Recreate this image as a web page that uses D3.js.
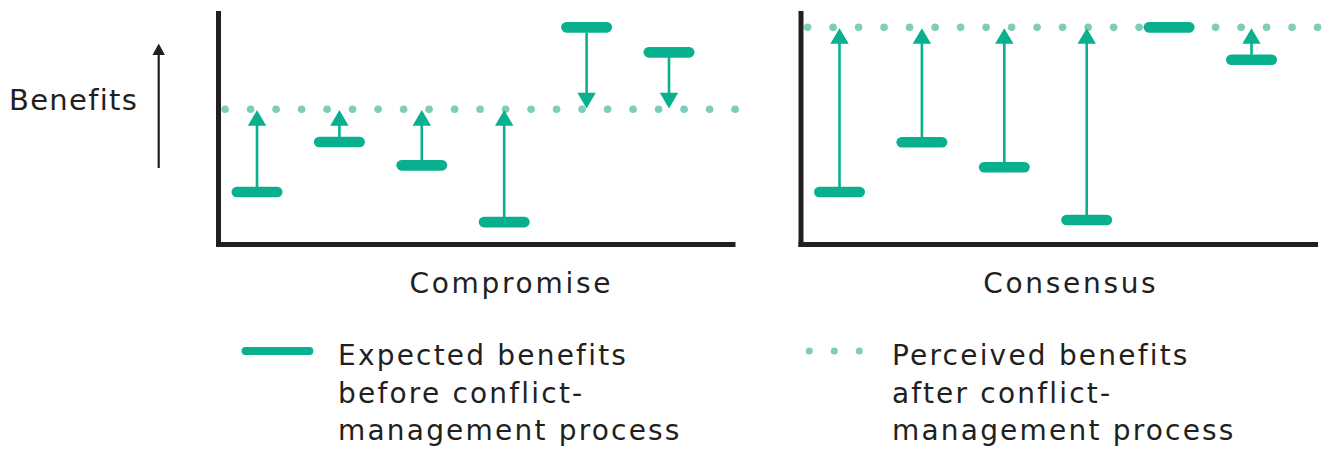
<!DOCTYPE html>
<html>
<head>
<meta charset="utf-8">
<script src="https://cdn.jsdelivr.net/npm/d3@7"></script>
<style>
	html, body { margin: 0; padding: 0; background: #fff; }
	svg text { font-family: 'DejaVu Sans', sans-serif; fill: #231f20; }
</style>
</head>
<body>
<svg id="chart" width="1331" height="450"></svg>
<script>
'use strict';

// data (benefit scale 0..100)
var panels = ['Compromise', 'Consensus'];
var cases = ['A', 'B', 'C', 'D', 'E', 'F'];
var expectedCompromise = [22.5, 43.9, 33.9, 9.6, 93.0, 82.3];
var expectedConsensus = [22.5, 43.8, 33.1, 10.5, 93.0, 79.1];
var perceived = [57.9, 93.0];
var legendLabels = [
	['Expected benefits', 'before conflict-', 'management process'],
	['Perceived benefits', 'after conflict-', 'management process']
];

var GREEN = '#08b08e';
var LIGHT = '#7fcdb6';
var INK = '#231f20';

var svg = d3.select('svg#chart');

var y = d3.scaleLinear().domain([0, 100]).range([244.5, 11]);
var panelX = d3.scalePoint().domain(panels).range([218.5, 801]);

var expected = [expectedCompromise, expectedConsensus];

panels.forEach(function(name, p) {
	var x0 = panelX(name);
	var g = svg.append('g');
	var x = d3.scalePoint().domain(cases).range([x0 + 38.5, x0 + 450.5]);
	var yp = y(perceived[p]);

	// perceived benefits: dotted line
	g.selectAll('circle.dot')
		.data(d3.range(21))
		.enter()
		.append('circle')
		.attr('class', 'dot')
		.attr('cx', function(d) {
			return x0 + 6.6 + d * 25.5;
		})
		.attr('cy', yp)
		.attr('r', 3.8)
		.style('fill', LIGHT);

	var rows = cases.map(function(c, i) {
		return { c: c, v: expected[p][i] };
	});

	// arrows from expected to perceived
	var arrows = rows.filter(function(d) {
		return Math.abs(y(d.v) - yp) > 2;
	});
	g.selectAll('line.stem')
		.data(arrows)
		.enter()
		.append('line')
		.attr('x1', function(d) { return x(d.c); })
		.attr('x2', function(d) { return x(d.c); })
		.attr('y1', function(d) {
			return y(d.v) > yp ? y(d.v) - 5 : y(d.v) + 5;
		})
		.attr('y2', function(d) {
			return y(d.v) > yp ? yp + 15 : yp - 15;
		})
		.style('stroke', GREEN)
		.style('stroke-width', 2.6);
	g.selectAll('path.head')
		.data(arrows)
		.enter()
		.append('path')
		.attr('d', function(d) {
			var cx = x(d.c);
			var dir = y(d.v) > yp ? 1 : -1;
			var tip = yp + dir * 0.8;
			var base = yp + dir * 16.5;
			return 'M' + cx + ',' + tip + 'L' + (cx - 9.2) + ',' + base + 'L' + (cx + 9.2) + ',' + base + 'Z';
		})
		.style('fill', GREEN);

	// expected benefits: rounded bars
	g.selectAll('rect.bar')
		.data(rows)
		.enter()
		.append('rect')
		.attr('x', function(d) { return x(d.c) - 25.5; })
		.attr('y', function(d) { return y(d.v) - 5.3; })
		.attr('width', 51)
		.attr('height', 10.6)
		.attr('rx', 5.3)
		.style('fill', GREEN);

	// axes
	g.append('line')
		.attr('x1', x0).attr('x2', x0)
		.attr('y1', y(100)).attr('y2', y(0) + 2.5)
		.style('stroke', INK).style('stroke-width', 5);
	g.append('line')
		.attr('x1', x0 - 2.5).attr('x2', x0 + 517)
		.attr('y1', y(0)).attr('y2', y(0))
		.style('stroke', INK).style('stroke-width', 5);

	g.append('text')
		.attr('x', x0 + [292.8, 269.8][p])
		.attr('y', 293)
		.attr('text-anchor', 'middle')
		.style('font-size', '28px')
		.style('letter-spacing', '2.7px')
		.text(name);
});

// y label with arrow
svg.append('text')
	.attr('x', 9)
	.attr('y', 110)
	.style('font-size', '29px')
	.style('letter-spacing', '1.3px')
	.text('Benefits');
svg.append('line')
	.attr('x1', 158.7).attr('x2', 158.7)
	.attr('y1', 168).attr('y2', 54)
	.style('stroke', INK).style('stroke-width', 2.2);
svg.append('path')
	.attr('d', 'M158.7,43.5L152.5,55L164.9,55Z')
	.style('fill', INK);

// legend
var legendX = [338, 892];
svg.append('line')
	.attr('x1', 245.5).attr('x2', 309.5)
	.attr('y1', 351).attr('y2', 351)
	.style('stroke', GREEN).style('stroke-width', 7.8)
	.style('stroke-linecap', 'round');
svg.selectAll('circle.ldot')
	.data([809.3, 834.3, 859.3])
	.enter()
	.append('circle')
	.attr('cx', function(d) { return d; })
	.attr('cy', 351)
	.attr('r', 3.5)
	.style('fill', LIGHT);

legendLabels.forEach(function(lines, k) {
	var t = svg.append('text')
		.attr('x', legendX[k])
		.attr('y', 365)
		.style('font-size', '28px')
		.style('letter-spacing', '2.2px');
	lines.forEach(function(line, i) {
		t.append('tspan')
			.attr('x', legendX[k])
			.attr('dy', i === 0 ? 0 : 37.6)
			.text(line);
	});
});
</script>
</body>
</html>
